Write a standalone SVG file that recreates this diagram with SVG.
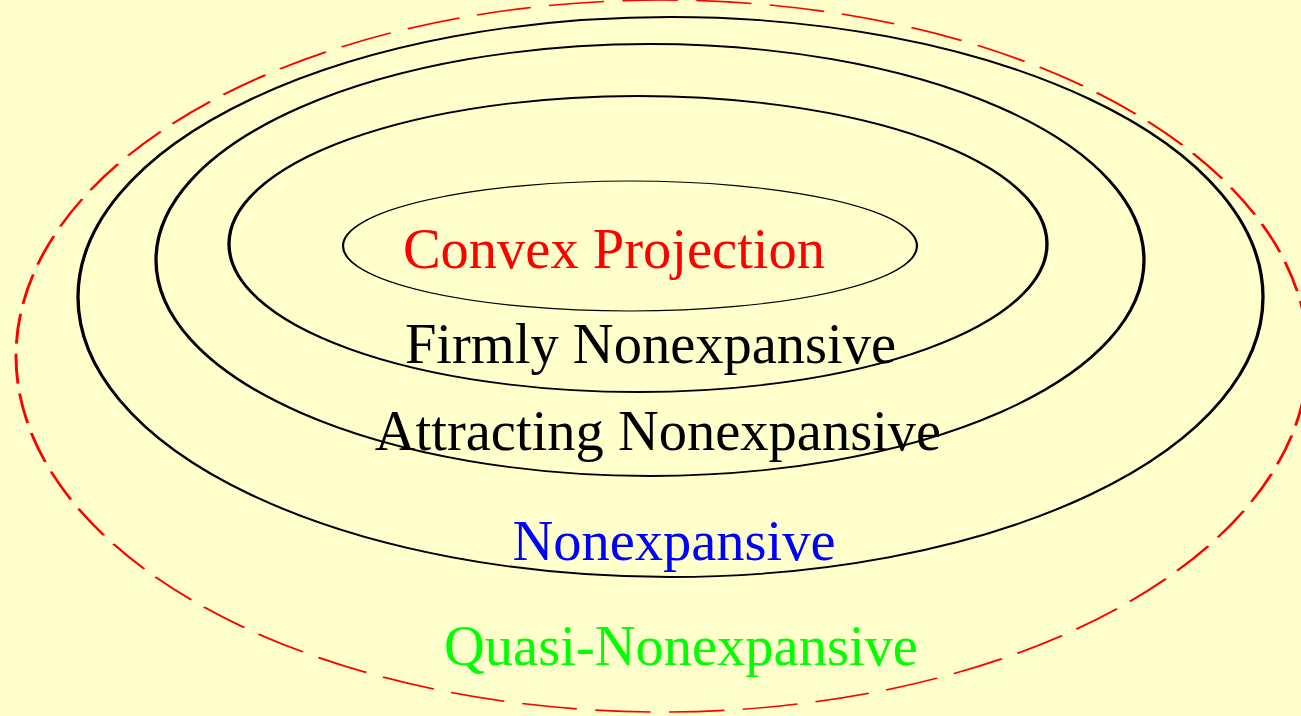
<svg xmlns="http://www.w3.org/2000/svg" width="1301" height="716" viewBox="0 0 1301 716">
  <style>
    .ring { fill: none; stroke: #000; stroke-width: 1.8; }
    .inner { stroke-width: 1.2; }
    .dash { fill: none; stroke: #ff0000; stroke-width: 1.6; stroke-dasharray: 30 10; }
    .lbl { font-family: "Liberation Serif", "Times New Roman", serif; font-size: 56.5px; text-anchor: middle; }
  </style>
  <rect x="0" y="0" width="1301" height="716" fill="#ffffcc"/>
  <g id="quasi-nonexpansive">
    <ellipse class="dash" transform="scale(1.85 1)" cx="357.84" cy="356" rx="349.19" ry="356"/>
    <text class="lbl" x="681" y="665" fill="#00ff00">Quasi-Nonexpansive</text>
  </g>
  <g id="nonexpansive">
    <ellipse class="ring" transform="scale(1.85 1)" cx="362.43" cy="297" rx="320.27" ry="280"/>
    <text class="lbl" x="674" y="560" fill="#0000ff">Nonexpansive</text>
  </g>
  <g id="attracting-nonexpansive">
    <ellipse class="ring" transform="scale(1.85 1)" cx="351.35" cy="260" rx="267.03" ry="216"/>
    <text class="lbl" x="658" y="450" fill="#000000">Attracting Nonexpansive</text>
  </g>
  <g id="firmly-nonexpansive">
    <ellipse class="ring" transform="scale(1.85 1)" cx="344.86" cy="244" rx="221.08" ry="148"/>
    <text class="lbl" x="650.5" y="363" fill="#000000">Firmly Nonexpansive</text>
  </g>
  <g id="convex-projection">
    <ellipse class="ring inner" transform="scale(1.85 1)" cx="340.54" cy="246" rx="155.14" ry="65"/>
    <text class="lbl" x="614" y="268" fill="#ff0000">Convex Projection</text>
  </g>
  <g id="connectors"></g>
</svg>
